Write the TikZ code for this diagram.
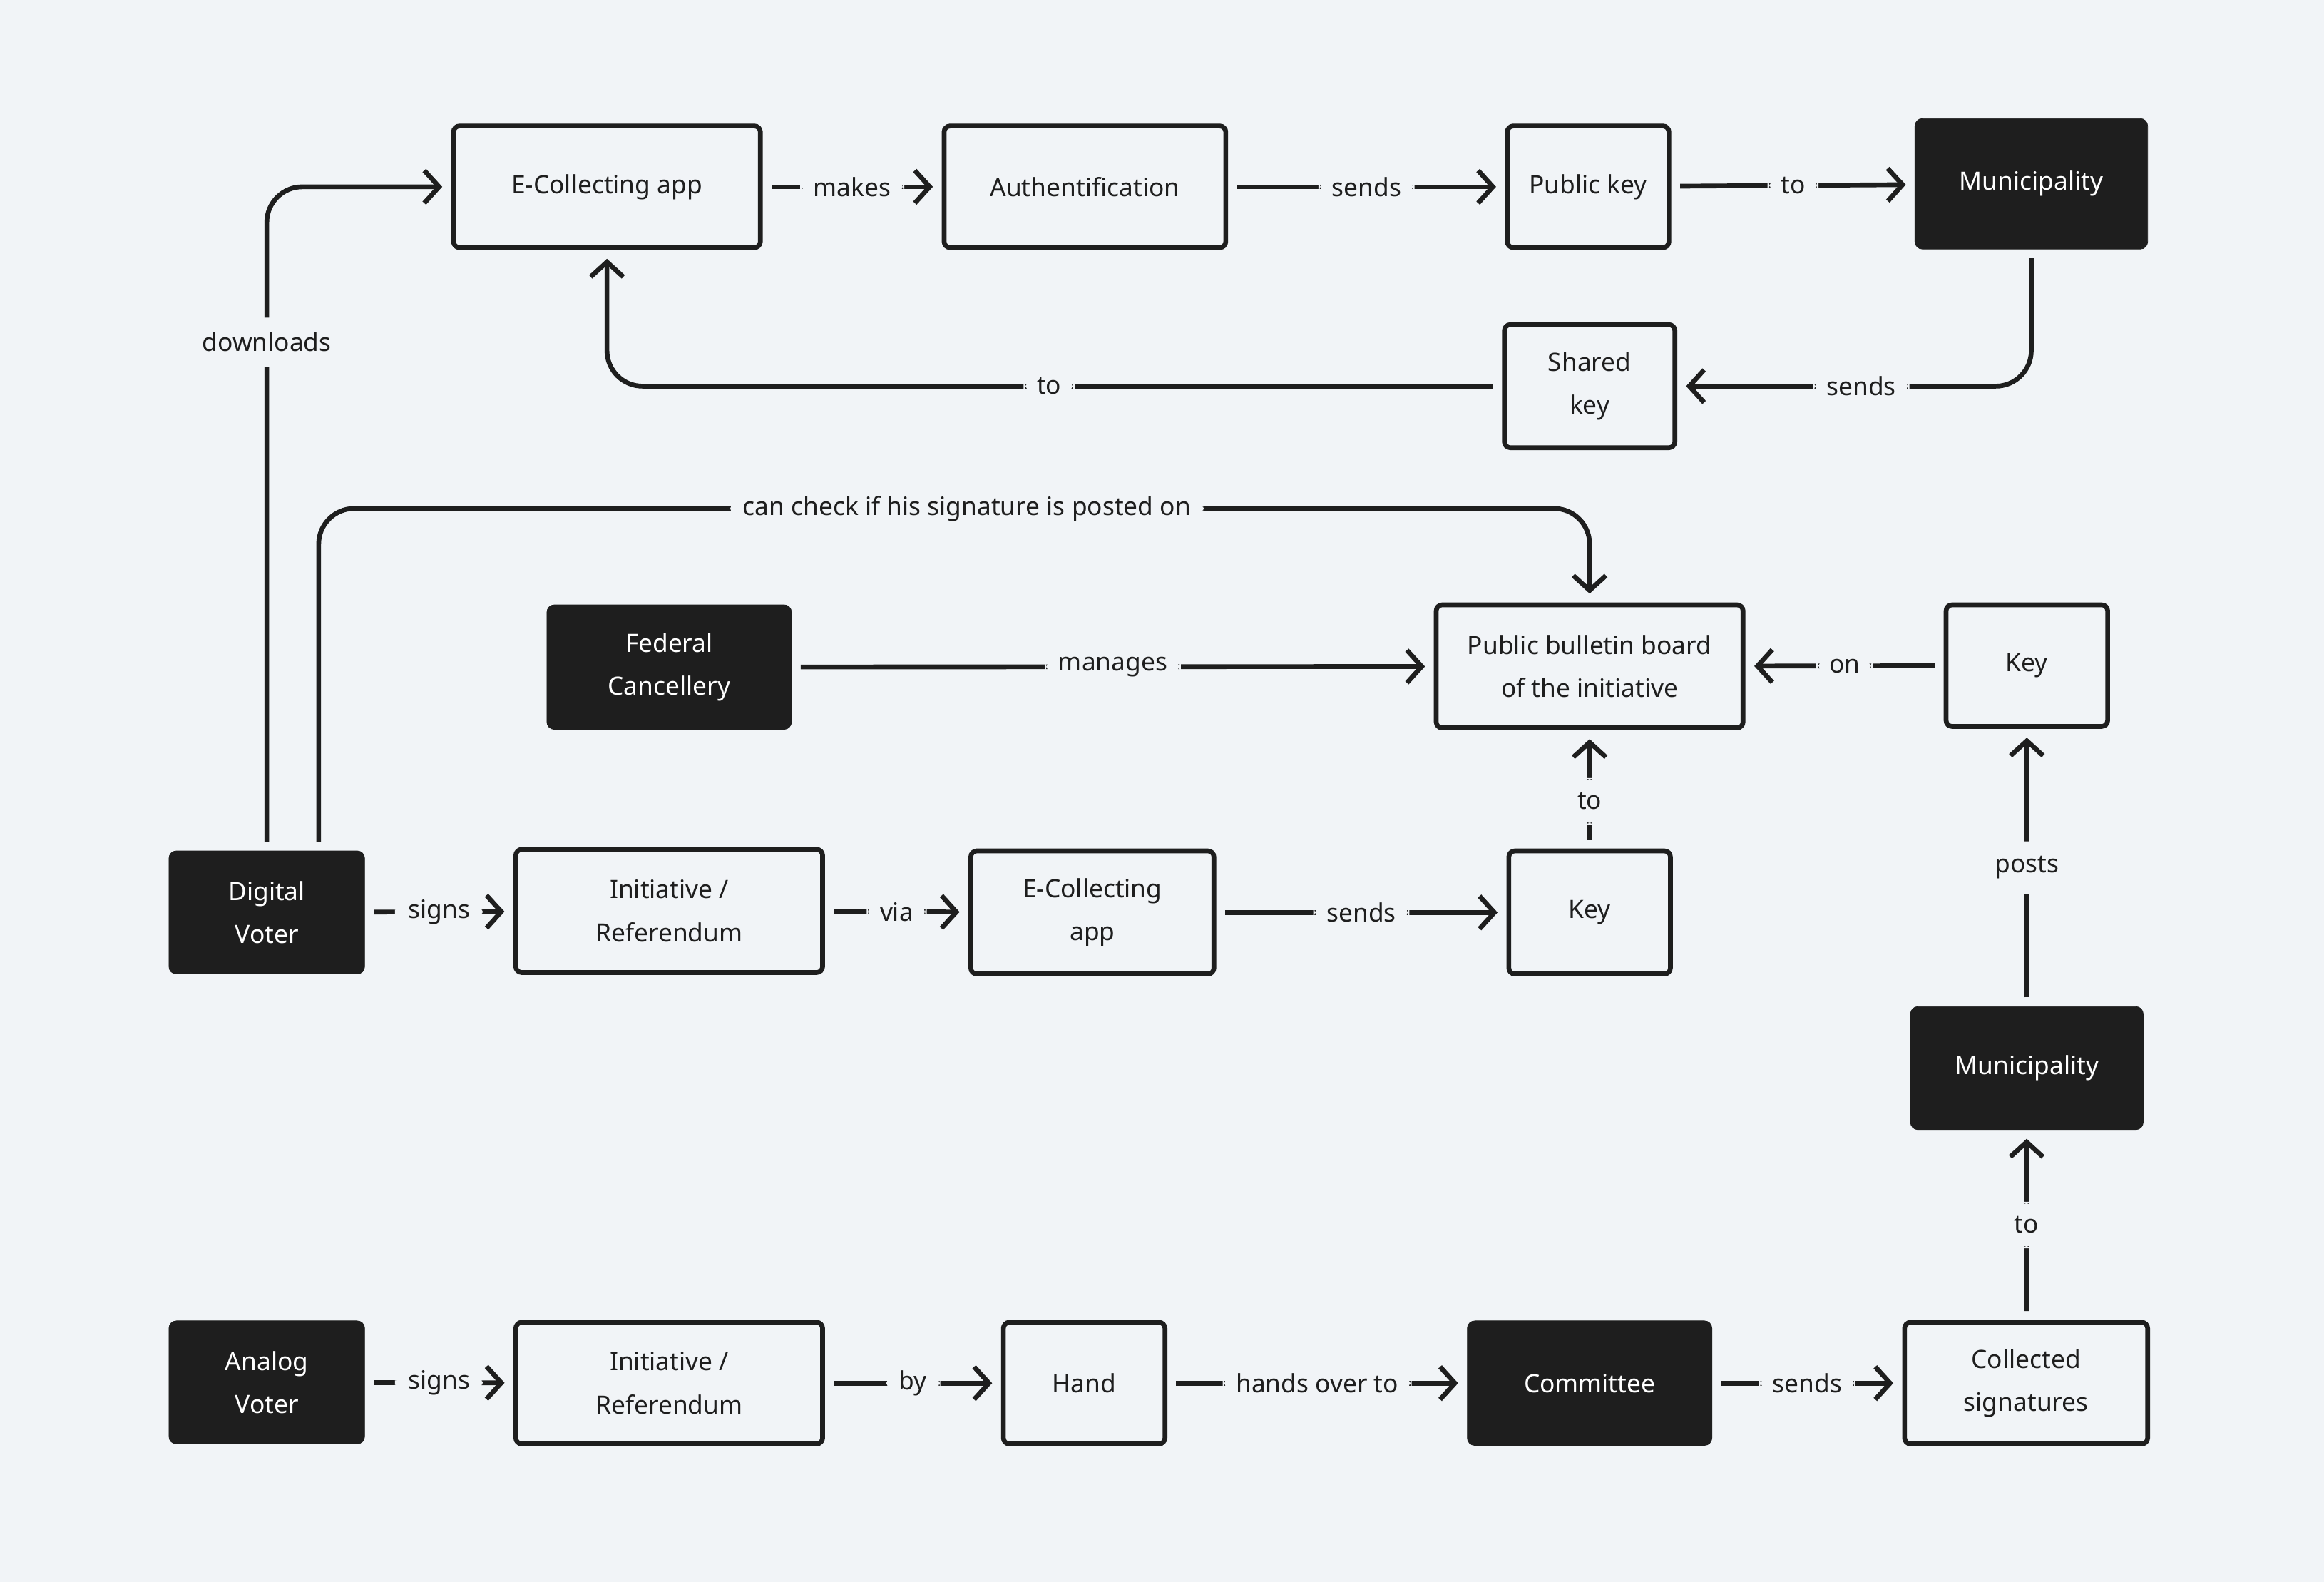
\documentclass[tikz,border=0pt]{standalone}
\usepackage{fontspec}
\setmainfont{Noto Sans}
\usetikzlibrary{arrows.meta,calc}
\definecolor{bg}{HTML}{F1F4F7}
\definecolor{ink}{HTML}{1E1E1E}
\begin{document}
\begin{tikzpicture}[x=1pt,y=-1pt,
  font=\fontsize{17}{29}\selectfont,
  box/.style={draw=ink,line width=3.2pt,fill=bg,rounded corners=4pt,minimum height=#1,align=center,text=ink,inner sep=0pt},
  box/.default=82pt,
  dark/.style={fill=ink,draw=ink,rounded corners=5pt,minimum height=84pt,align=center,text=white,inner sep=0pt},
  e/.style={draw=ink,line width=3.2pt,-{Straight Barb[length=10pt,width=22pt,line width=3.2pt]},shorten >=6pt,shorten <=6pt,rounded corners=24pt},
  lbl/.style={fill=bg,text=ink,inner xsep=9pt,inner ysep=10pt}]
\useasboundingbox[fill=bg] (0,0) rectangle (1568,1067);
% nodes
\node[box,minimum width=207pt] (ecapp) at (409.5,126) {E-Collecting app};
\node[box,minimum width=190pt] (auth) at (732,126) {Authentification};
\node[box,minimum width=109pt] (pubkey) at (1071.5,126) {Public key};
\node[dark,minimum width=157pt,minimum height=88pt] (muni1) at (1370.5,124) {Municipality};
\node[box=83pt,minimum width=115pt] (shared) at (1072.5,260.5) {Shared\\key};
\node[dark,minimum width=165pt] (fed) at (451.5,450) {Federal\\Cancellery};
\node[box=83pt,minimum width=207pt] (pbb) at (1072.5,449.5) {Public bulletin board\\of the initiative};
\node[box,minimum width=109pt] (key1) at (1367.5,449) {Key};
\node[dark,minimum width=132pt,minimum height=83pt] (dig) at (180,615.5) {Digital\\Voter};
\node[box=83pt,minimum width=207pt] (init1) at (451.5,614.5) {Initiative /\\Referendum};
\node[box=83pt,minimum width=164pt] (ecapp2) at (737,615.5) {E-Collecting\\app};
\node[box=83pt,minimum width=109pt] (key2) at (1072.5,615.5) {Key};
\node[dark,minimum width=157pt,minimum height=83pt] (muni2) at (1367.5,720.5) {Municipality};
\node[dark,minimum width=132pt,minimum height=83pt] (ana) at (180,932.5) {Analog\\Voter};
\node[box,minimum width=207pt] (init2) at (451.5,933) {Initiative /\\Referendum};
\node[box,minimum width=109pt] (hand) at (731.5,933) {Hand};
\node[dark,minimum width=165pt] (comm) at (1072.5,933) {Committee};
\node[box,minimum width=164pt] (coll) at (1367,933) {Collected\\signatures};
% edges
\draw[e] (dig.north) |- node[lbl,pos=0.383]{downloads} (ecapp.west);
\draw[e] (ecapp) -- node[lbl]{makes} (auth);
\draw[e] (auth) -- node[lbl]{sends} (pubkey);
\draw[e] (pubkey) -- node[lbl]{to} (muni1);
\draw[e] (muni1.south) |- node[lbl,pos=0.74]{sends} (shared.east);
\draw[e] (shared.west) -| node[lbl,pos=0.253]{to} (ecapp.south);
\coordinate (c0) at ($(dig.north)+(35,0)$);
\draw[e] (c0) -- (c0 |- 0,343) -- node[lbl,pos=0.51]{can check if his signature is posted on} (pbb.north |- 0,343) -- (pbb.north);
\draw[e] (fed) -- node[lbl]{manages} (pbb);
\draw[e] (key1) -- node[lbl]{on} (pbb);
\draw[e] (dig) -- node[lbl]{signs} (init1);
\draw[e] (init1) -- node[lbl]{via} (ecapp2);
\draw[e] (ecapp2) -- node[lbl]{sends} (key2);
\draw[e] (key2) -- node[lbl,pos=0.4]{to} (pbb);
\draw[e] (muni2) -- node[lbl]{posts} (key1);
\draw[e] (coll) -- node[lbl]{to} (muni2);
\draw[e] (ana) -- node[lbl]{signs} (init2);
\draw[e] (init2) -- node[lbl]{by} (hand);
\draw[e] (hand) -- node[lbl]{hands over to} (comm);
\draw[e] (comm) -- node[lbl]{sends} (coll);
\end{tikzpicture}
\end{document}
